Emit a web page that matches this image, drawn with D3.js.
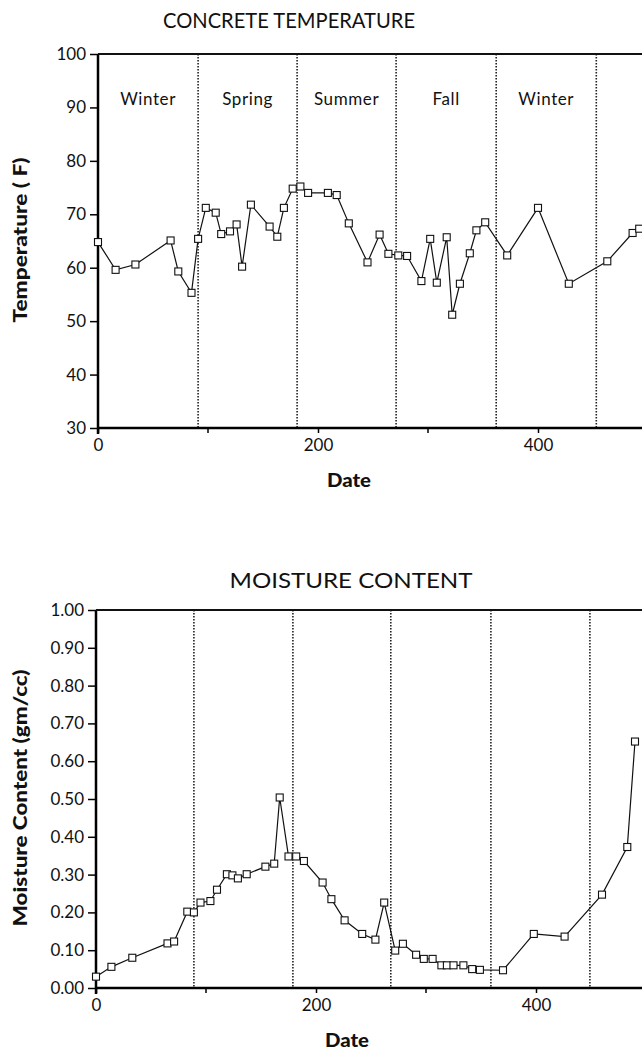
<!DOCTYPE html>
<html lang="en">
<head>
<meta charset="utf-8">
<title>Concrete temperature and moisture</title>
<script src="https://cdn.jsdelivr.net/npm/d3@7/dist/d3.min.js"></script>
<style>
body { margin: 0; background: #fff; }
text { fill: #111; }
</style>
</head>
<body>
<svg id="chart"></svg>
<script>
// values
var seasonNames = ["Winter", "Spring", "Summer", "Fall", "Winter"];
var tempSeasonDays = [91, 181, 271, 362, 453];
var moistSeasonDays = [89, 179, 268, 359, 449];

var tempDays = [0, 16, 34, 66, 73, 85, 91, 98, 107, 112, 120, 126, 131, 139, 156, 163, 169, 177, 184, 191,
                209, 217, 228, 245, 256, 264, 273, 281, 294, 302, 308, 317, 322, 329, 338, 344, 352, 372, 400, 428,
                463, 486, 492];
var tempValues = [64.8, 59.6, 60.6, 65.1, 59.3, 55.3, 65.4, 71.2, 70.3, 66.3, 66.8, 68.1, 60.2, 71.8, 67.7, 65.8, 71.2, 74.8, 75.2, 74.0,
                  74.0, 73.6, 68.3, 61.0, 66.2, 62.6, 62.3, 62.2, 57.5, 65.4, 57.2, 65.7, 51.2, 57.0, 62.7, 67.0, 68.5, 62.3, 71.2, 57.0,
                  61.2, 66.5, 67.3];

var moistDays = [0, 14, 33, 65, 71, 83, 89, 95, 104, 110, 119, 124, 129, 137, 154, 162, 167, 175, 182, 189,
                 206, 214, 226, 242, 254, 262, 272, 279, 291, 298, 306, 314, 319, 325, 334, 342, 349, 370, 398, 426,
                 460, 483, 490];
var moistValues = [0.03, 0.056, 0.08, 0.118, 0.123, 0.202, 0.20, 0.226, 0.23, 0.26, 0.301, 0.298, 0.29, 0.301, 0.321, 0.329, 0.504, 0.348, 0.348, 0.336,
                   0.279, 0.235, 0.179, 0.143, 0.128, 0.226, 0.099, 0.117, 0.088, 0.077, 0.077, 0.06, 0.06, 0.06, 0.06, 0.05, 0.048, 0.047, 0.143, 0.136,
                   0.247, 0.373, 0.652];

var xTickMajor = [0, 200, 400];
var xTickMinor = [100, 300];
var tempTicks = [30, 40, 50, 60, 70, 80, 90, 100];
var moistTicks = [0, 0.1, 0.2, 0.3, 0.4, 0.5, 0.6, 0.7, 0.8, 0.9, 1.0];

var width = 642;
var height = 1050;
var fontFam = "'Lato', 'Open Sans', 'DejaVu Sans', sans-serif";

var svg = d3.select("#chart")
    .attr("width", width)
    .attr("height", height);

function drawPanel(opt) {
    var x = d3.scaleLinear().domain([0, 500]).range([opt.left, opt.left + 550]);
    var y = d3.scaleLinear().domain(opt.yDomain).range([opt.bottom, opt.top]);

    var g = svg.append("g");

    // title
    g.append("text")
        .attr("x", opt.titleX)
        .attr("y", opt.titleY)
        .attr("text-anchor", "middle")
        .attr("textLength", opt.titleLen)
        .attr("lengthAdjust", "spacingAndGlyphs")
        .style("font-family", fontFam)
        .style("font-weight", 400)
        .style("font-size", "21px")
        .text(opt.title);

    // season dividers
    g.selectAll(".season")
        .data(opt.seasons)
        .enter()
        .append("line")
        .attr("x1", d => x(d))
        .attr("x2", d => x(d))
        .attr("y1", opt.top)
        .attr("y2", opt.bottom)
        .attr("stroke", "#222")
        .attr("stroke-width", 1.6)
        .attr("stroke-dasharray", "1.5,1.5");

    if (opt.seasonLabels) {
        var bounds = [0].concat(opt.seasons);
        g.selectAll(".seasonLabel")
            .data(opt.seasonLabels)
            .enter()
            .append("text")
            .attr("x", (d, i) => (x(bounds[i]) + x(bounds[i + 1])) / 2)
            .attr("y", opt.top + 51)
            .attr("text-anchor", "middle")
            .style("font-family", fontFam)
            .style("font-size", "17px")
            .style("letter-spacing", "0.6px")
            .text(d => d);
    }

    // y axis
    var yAxis = d3.axisLeft(y)
        .tickValues(opt.yTicks)
        .tickSize(8)
        .tickPadding(4)
        .tickFormat(opt.yFormat);
    var ya = g.append("g")
        .attr("transform", "translate(" + opt.left + ",0)")
        .call(yAxis);
    ya.select(".domain").attr("stroke-width", 2.5).attr("d", "M0," + (opt.bottom + 6) + "V" + opt.top);
    ya.selectAll(".tick line").attr("stroke-width", 1.5);
    ya.selectAll(".tick text")
        .style("font-family", fontFam)
        .style("font-size", "17px")
        .attr("fill", "#111");

    // x axis
    var xAxis = d3.axisBottom(x)
        .tickValues(xTickMajor)
        .tickSize(5)
        .tickPadding(6)
        .tickFormat(d3.format("d"));
    var xa = g.append("g")
        .attr("transform", "translate(0," + opt.bottom + ")")
        .call(xAxis);
    xa.select(".domain").attr("stroke-width", 2.5).attr("d", "M" + opt.left + ",0H" + width);
    xa.selectAll(".tick line").attr("stroke-width", 1.5);
    xa.selectAll(".tick text")
        .style("font-family", fontFam)
        .style("font-size", "17px")
        .attr("fill", "#111");

    g.selectAll(".minor")
        .data(xTickMinor)
        .enter()
        .append("line")
        .attr("x1", d => x(d))
        .attr("x2", d => x(d))
        .attr("y1", opt.bottom)
        .attr("y2", opt.bottom + 5)
        .attr("stroke", "#000")
        .attr("stroke-width", 1.5);

    // top frame line
    g.append("line")
        .attr("x1", opt.left)
        .attr("x2", width)
        .attr("y1", opt.top)
        .attr("y2", opt.top)
        .attr("stroke", "#111")
        .attr("stroke-width", 2);

    // axis titles
    g.append("text")
        .attr("x", opt.left + 251)
        .attr("y", opt.bottom + 59)
        .attr("text-anchor", "middle")
        .attr("textLength", 44)
        .attr("lengthAdjust", "spacingAndGlyphs")
        .style("font-family", fontFam)
        .style("font-weight", "900")
        .style("font-size", "18px")
        .text("Date");

    g.append("text")
        .attr("transform", "translate(27," + opt.yLabelMid + ") rotate(-90)")
        .attr("text-anchor", "middle")
        .attr("textLength", opt.yLabelLen)
        .attr("lengthAdjust", "spacingAndGlyphs")
        .style("font-family", fontFam)
        .style("font-weight", "900")
        .style("font-size", "18px")
        .text(opt.yLabel);

    // series
    var pts = opt.days.map((d, i) => ({ day: d, v: opt.values[i] }));

    var line = d3.line()
        .x(d => x(d.day))
        .y(d => y(d.v));

    g.append("path")
        .datum(pts)
        .attr("d", line)
        .attr("fill", "none")
        .attr("stroke", "#111")
        .attr("stroke-width", 1.2);

    g.selectAll(".marker")
        .data(pts)
        .enter()
        .append("rect")
        .attr("x", d => x(d.day) - 3.5)
        .attr("y", d => y(d.v) - 3.5)
        .attr("width", 7)
        .attr("height", 7)
        .attr("fill", "#fff")
        .attr("stroke", "#111")
        .attr("stroke-width", 1.1);
}

drawPanel({
    title: "CONCRETE TEMPERATURE",
    titleX: 289,
    titleY: 28,
    titleLen: 252,
    top: 54,
    bottom: 428,
    left: 98,
    yDomain: [30, 100],
    yTicks: tempTicks,
    yFormat: d3.format("d"),
    yLabel: "Temperature ( F)",
    yLabelMid: 240,
    yLabelLen: 165,
    seasons: tempSeasonDays,
    seasonLabels: seasonNames,
    days: tempDays,
    values: tempValues
});

drawPanel({
    title: "MOISTURE CONTENT",
    titleX: 351,
    titleY: 588,
    titleLen: 243,
    top: 610,
    bottom: 988,
    left: 96,
    yDomain: [0, 1],
    yTicks: moistTicks,
    yFormat: d3.format(".2f"),
    yLabel: "Moisture Content (gm/cc)",
    yLabelMid: 798,
    yLabelLen: 257,
    seasons: moistSeasonDays,
    seasonLabels: null,
    days: moistDays,
    values: moistValues
});
</script>
</body>
</html>
